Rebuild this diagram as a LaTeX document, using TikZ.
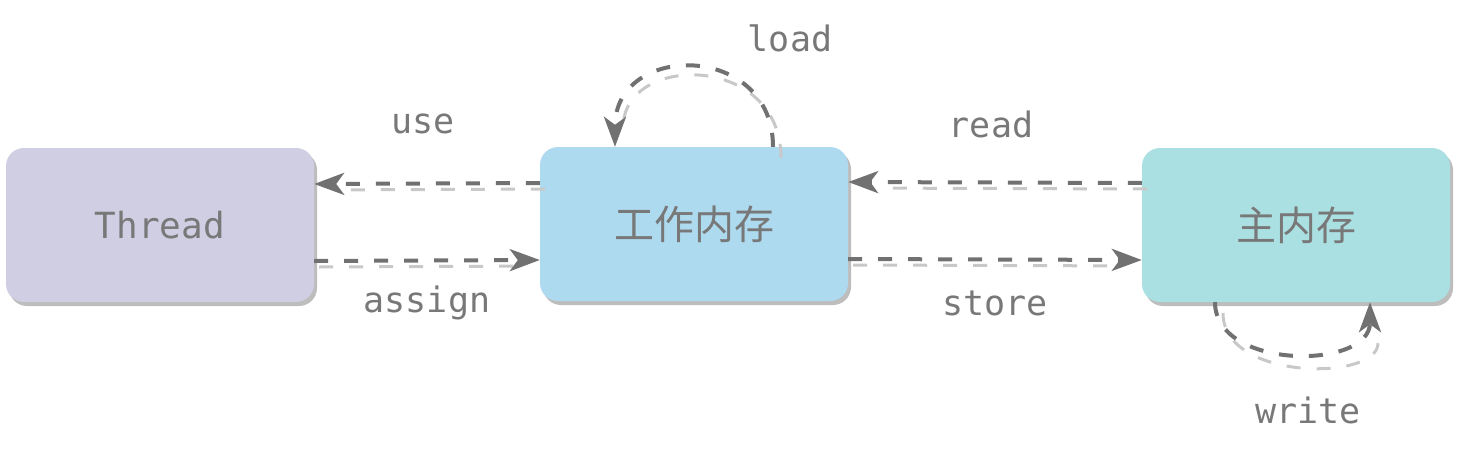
\documentclass[tikz,border=0pt]{standalone}
\usepackage{fontspec}
\newfontfamily\monof{DejaVu Sans Mono}
\newfontfamily\cjkf{Noto Sans CJK SC}
\usetikzlibrary{arrows.meta,shadows}
\definecolor{threadc}{HTML}{D0CEE3}
\definecolor{workc}{HTML}{ADDAEF}
\definecolor{mainc}{HTML}{ABE0E3}
\definecolor{txtc}{HTML}{787878}
\definecolor{linec}{HTML}{717171}
\definecolor{lshadow}{HTML}{C8C8C8}
\definecolor{bshadow}{HTML}{BDBDBD}
\tikzset{
  box/.style={rounded corners=18pt, minimum width=308pt, minimum height=154pt,
    text=txtc, drop shadow={shadow xshift=3pt, shadow yshift=-4pt, fill=bshadow, opacity=1}},
  lbl/.style={text=txtc, font=\monof\fontsize{35}{40}\selectfont, inner sep=0pt},
  arr/.style={draw=linec, line width=4pt, dash pattern=on 14pt off 16pt,
    -{Stealth[length=30pt,width=22pt,inset=8pt]}},
  arrsh/.style={draw=lshadow, line width=3pt, dash pattern=on 14pt off 16pt,
    shorten >=30pt, transform canvas={shift={(5pt,-6pt)}}}
}
\begin{document}
\begin{tikzpicture}[x=1pt,y=-1pt]
\useasboundingbox (0,0) rectangle (1462,450);
\node[box, fill=threadc, font=\monof\fontsize{36}{40}\selectfont] (t) at (160,225) {Thread};
\node[box, fill=workc, font=\cjkf\fontsize{40}{44}\selectfont] (w) at (694,224) {工作内存};
\node[box, fill=mainc, font=\cjkf\fontsize{40}{44}\selectfont] (m) at (1296,225) {主内存};
% use
\draw[arrsh] ([yshift=41pt]w.west) -- ([yshift=41pt]t.east);
\draw[arr] ([yshift=41pt]w.west) -- ([yshift=41pt]t.east);
% assign
\draw[arrsh] ([yshift=-36pt]t.east) -- ([yshift=-36pt]w.west);
\draw[arr] ([yshift=-36pt]t.east) -- ([yshift=-36pt]w.west);
% read
\draw[arrsh] ([yshift=42pt]m.west) -- ([yshift=42pt]w.east);
\draw[arr] ([yshift=42pt]m.west) -- ([yshift=42pt]w.east);
% store
\draw[arrsh] ([yshift=-35pt]w.east) -- ([yshift=-35pt]m.west);
\draw[arr] ([yshift=-35pt]w.east) -- ([yshift=-35pt]m.west);
% load
\draw[arrsh, transform canvas={shift={(3pt,-5pt)}}] ([xshift=79pt]w.north) .. controls ([xshift=79pt,yshift=105pt]w.north) and ([xshift=-79pt,yshift=105pt]w.north) .. ([xshift=-79pt]w.north);
\draw[arr] ([xshift=79pt]w.north) .. controls ([xshift=79pt,yshift=105pt]w.north) and ([xshift=-79pt,yshift=105pt]w.north) .. ([xshift=-79pt]w.north);
% write
\draw[arrsh, transform canvas={shift={(3pt,-5pt)}}] ([xshift=-81pt]m.south) .. controls ([xshift=-81pt,yshift=-68pt]m.south) and ([xshift=74pt,yshift=-68pt]m.south) .. ([xshift=74pt]m.south);
\draw[arr] ([xshift=-81pt]m.south) .. controls ([xshift=-81pt,yshift=-68pt]m.south) and ([xshift=74pt,yshift=-68pt]m.south) .. ([xshift=74pt]m.south);
% labels
\node[lbl] (lload) at (790,38) {load};
\node[lbl] (luse) at (423,124) {use};
\node[lbl] (lread) at (991,124) {read};
\node[lbl] (lassign) at (427,303) {assign};
\node[lbl] (lstore) at (995,303) {store};
\node[lbl] (lwrite) at (1308,410) {write};
\end{tikzpicture}
\end{document}
